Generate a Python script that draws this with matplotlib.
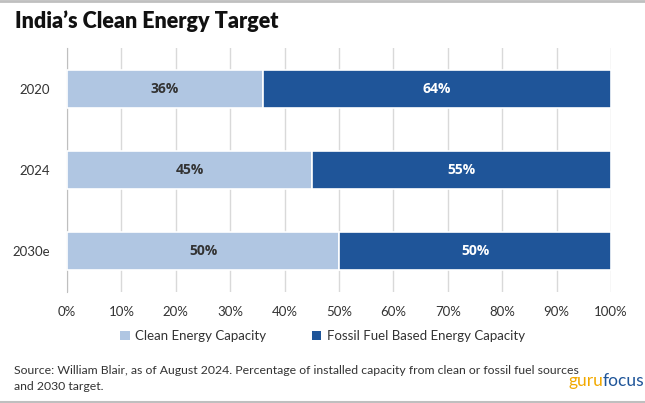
import matplotlib
matplotlib.use("Agg")
import matplotlib.pyplot as plt
from matplotlib.patches import Patch
from matplotlib.lines import Line2D

years = ["2020", "2024", "2030e"]
clean = [36, 45, 50]
fossil = [64, 55, 50]
xticks = [0, 10, 20, 30, 40, 50, 60, 70, 80, 90, 100]
xtick_labels = [f"{v}%" for v in xticks]

c_clean = "#B0C6E2"
c_fossil = "#1F5599"
txt = "#333333"
plt.rcParams['font.family'] = ['Lato', 'DejaVu Sans']

fig = plt.figure(figsize=(6.45, 4.03), dpi=100)
ax = fig.add_axes([67/645, 1-292/403, (611-67)/645, (292-48)/403])

y = list(range(len(years)))
h = 0.47
ax.barh(y, clean, height=h, color=c_clean, edgecolor="white", linewidth=1.2, zorder=3)
ax.barh(y, fossil, left=clean, height=h, color=c_fossil, edgecolor="white", linewidth=1.2, zorder=3)
for i in y:
    ax.text(clean[i]/2, i, f"{clean[i]}%", ha="center", va="center", color=txt,
            fontsize=10, fontweight="bold", family=["Open Sans", "DejaVu Sans"], zorder=4)
    ax.text(clean[i] + fossil[i]/2, i, f"{fossil[i]}%", ha="center", va="center",
            color="white", fontsize=10, fontweight="bold", family=["Open Sans", "DejaVu Sans"], zorder=4)

ax.set_xlim(0, 100)
ax.set_ylim(2.5, -0.5)
ax.set_yticks(y)
ax.set_yticklabels(years)
ax.set_xticks(xticks)
ax.set_xticklabels(xtick_labels)
ax.tick_params(axis="x", length=0, pad=10, labelsize=9.5, labelcolor=txt)
ax.tick_params(axis="y", length=0, pad=12, labelsize=9.5, labelcolor=txt)
ax.grid(axis="x", color="#D9D9D9", linewidth=1, zorder=0)
for s in ["top", "right", "bottom"]:
    ax.spines[s].set_visible(False)
ax.spines["left"].set_color("#BFBFBF")
ax.spines["left"].set_zorder(2)

fig.text(15/645, 1-21/403, "India’s Clean Energy Target", fontsize=15.5, fontweight="heavy",
         color="#111111", va="center", ha="left")

handles = [Patch(facecolor=c_clean, edgecolor="none"), Patch(facecolor=c_fossil, edgecolor="none")]
fig.legend(handles, ["Clean Energy Capacity", "Fossil Fuel Based Energy Capacity"],
           loc="center", bbox_to_anchor=(0.5, 1-336/403), ncol=2, frameon=False,
           fontsize=9.5, handlelength=0.7, handleheight=0.7, handletextpad=0.4,
           columnspacing=3.5, labelcolor=txt)

fig.text(14/645, 1-370/403, "Source: William Blair, as of August 2024. Percentage of installed capacity from clean or fossil fuel sources",
         fontsize=8.8, color=txt, va="center", ha="left")
fig.text(14/645, 1-386/403, "and 2030 target.", fontsize=8.8, color=txt, va="center", ha="left")

fig.text(603/645, 1-381/403, "guru", fontsize=12.5, color="#F2A900", va="center", ha="right")
fig.text(603/645, 1-381/403, "focus", fontsize=12.5, color="#1F5599", va="center", ha="left")

fig.add_artist(Line2D([0, 1], [1-0.5/403, 1-0.5/403], color="#BFBFBF", linewidth=2, transform=fig.transFigure))
fig.add_artist(Line2D([0, 1], [1-401.5/403, 1-401.5/403], color="#BFBFBF", linewidth=1.5, transform=fig.transFigure))

fig.savefig("out.png", dpi=100)
